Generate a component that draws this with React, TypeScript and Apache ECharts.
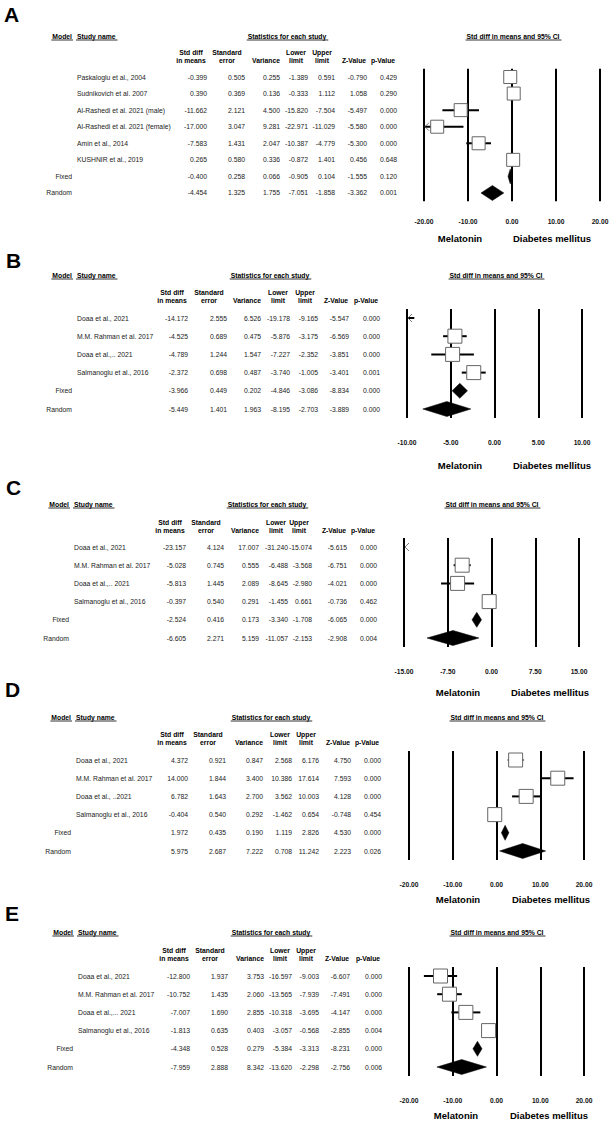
import React, { useEffect, useRef } from "react";
import * as echarts from "echarts";

const FONT = "'Liberation Sans', Arial, Helvetica, sans-serif";

// ---------- Panel A ----------
const rowsA = [
  "Paskaloglu et al., 2004",
  "Sudnikovich et al. 2007",
  "Al-Rashedi et al. 2021 (male)",
  "Al-Rashedi et al. 2021 (female)",
  "Amin et al., 2014",
  "KUSHNIR et al., 2019",
  "Fixed",
  "Random",
];
const smdA = [-0.399, 0.39, -11.662, -17.0, -7.583, 0.265, -0.4, -4.454];
const seA = [0.505, 0.369, 2.121, 3.047, 1.431, 0.58, 0.258, 1.325];
const varA = [0.255, 0.136, 4.5, 9.281, 2.047, 0.336, 0.066, 1.755];
const lowerA = [-1.389, -0.333, -15.82, -22.971, -10.387, -0.872, -0.905, -7.051];
const upperA = [0.591, 1.112, -7.504, -11.029, -4.779, 1.401, 0.104, -1.858];
const zA = [-0.79, 1.058, -5.497, -5.58, -5.3, 0.456, -1.555, -3.362];
const pA = [0.429, 0.29, 0.0, 0.0, 0.0, 0.648, 0.12, 0.001];
const ticksA = [-20, -10, 0, 10, 20];

// ---------- Panel B ----------
const rowsB = ["Doaa et al., 2021", "M.M. Rahman et al. 2017", "Doaa et al.,.. 2021", "Salmanoglu et al., 2016", "Fixed", "Random"];
const smdB = [-14.172, -4.525, -4.789, -2.372, -3.966, -5.449];
const seB = [2.555, 0.689, 1.244, 0.698, 0.449, 1.401];
const varB = [6.526, 0.475, 1.547, 0.487, 0.202, 1.963];
const lowerB = [-19.178, -5.876, -7.227, -3.74, -4.846, -8.195];
const upperB = [-9.165, -3.175, -2.352, -1.005, -3.086, -2.703];
const zB = [-5.547, -6.569, -3.851, -3.401, -8.834, -3.889];
const pB = [0.0, 0.0, 0.0, 0.001, 0.0, 0.0];
const ticksB = [-10, -5, 0, 5, 10];

// ---------- Panel C ----------
const rowsC = ["Doaa et al., 2021", "M.M. Rahman et al. 2017", "Doaa et al.,.. 2021", "Salmanoglu et al., 2016", "Fixed", "Random"];
const smdC = [-23.157, -5.028, -5.813, -0.397, -2.524, -6.605];
const seC = [4.124, 0.745, 1.445, 0.54, 0.416, 2.271];
const varC = [17.007, 0.555, 2.089, 0.291, 0.173, 5.159];
const lowerC = [-31.24, -6.488, -8.645, -1.455, -3.34, -11.057];
const upperC = [-15.074, -3.568, -2.98, 0.661, -1.708, -2.153];
const zC = [-5.615, -6.751, -4.021, -0.736, -6.065, -2.908];
const pC = [0.0, 0.0, 0.0, 0.462, 0.0, 0.004];
const ticksC = [-15, -7.5, 0, 7.5, 15];

// ---------- Panel D ----------
const rowsD = ["Doaa et al., 2021", "M.M. Rahman et al. 2017", "Doaa et al., ..2021", "Salmanoglu et al., 2016", "Fixed", "Random"];
const smdD = [4.372, 14.0, 6.782, -0.404, 1.972, 5.975];
const seD = [0.921, 1.844, 1.643, 0.54, 0.435, 2.687];
const varD = [0.847, 3.4, 2.7, 0.292, 0.19, 7.222];
const lowerD = [2.568, 10.386, 3.562, -1.462, 1.119, 0.708];
const upperD = [6.176, 17.614, 10.003, 0.654, 2.826, 11.242];
const zD = [4.75, 7.593, 4.128, -0.748, 4.53, 2.223];
const pD = [0.0, 0.0, 0.0, 0.454, 0.0, 0.026];
const ticksD = [-20, -10, 0, 10, 20];

// ---------- Panel E ----------
const rowsE = ["Doaa et al., 2021", "M.M. Rahman et al. 2017", "Doaa et al.,... 2021", "Salmanoglu et al., 2016", "Fixed", "Random"];
const smdE = [-12.8, -10.752, -7.007, -1.813, -4.348, -7.959];
const seE = [1.937, 1.435, 1.69, 0.635, 0.528, 2.888];
const varE = [3.753, 2.06, 2.855, 0.403, 0.279, 8.342];
const lowerE = [-16.597, -13.565, -10.318, -3.057, -5.384, -13.62];
const upperE = [-9.003, -7.939, -3.695, -0.568, -3.313, -2.298];
const zE = [-6.607, -7.491, -4.147, -2.855, -8.231, -2.756];
const pE = [0.0, 0.0, 0.0, 0.004, 0.0, 0.006];
const ticksE = [-20, -10, 0, 10, 20];

const panelLetters = ["A", "B", "C", "D", "E"];
const colHeaders = [
  ["Std diff", "in means"],
  ["Standard", "error"],
  ["", "Variance"],
  ["Lower", "limit"],
  ["Upper", "limit"],
  ["", "Z-Value"],
  ["", "p-Value"],
];
const headerModel = "Model";
const headerStudy = "Study name";
const headerStats = "Statistics for each study";
const forestTitle = "Std diff in means and 95% CI";
const leftSide = "Melatonin";
const rightSide = "Diabetes mellitus";

const panelData = [
  { rows: rowsA, cols: [smdA, seA, varA, lowerA, upperA, zA, pA], ticks: ticksA },
  { rows: rowsB, cols: [smdB, seB, varB, lowerB, upperB, zB, pB], ticks: ticksB },
  { rows: rowsC, cols: [smdC, seC, varC, lowerC, upperC, zC, pC], ticks: ticksC },
  { rows: rowsD, cols: [smdD, seD, varD, lowerD, upperD, zD, pD], ticks: ticksD },
  { rows: rowsE, cols: [smdE, seE, varE, lowerE, upperE, zE, pE], ticks: ticksE },
];

// layout (positions only)
const layouts = [
  { letterX: 4, letterY: 14, headerY: 36, colHdrY: 52, rowY0: 77, step: 16.57, gridLeft: 424, gridWidth: 176, colRights: [207, 245, 280, 308, 335, 367, 397], modelRight: 72, nameLeft: 77, statsCenter: 287, titleCenter: 513, labelMargin: 17, sideY: 238, melX: 460, diaX: 552, box: 13 },
  { letterX: 6, letterY: 260, headerY: 275, colHdrY: 292, rowY0: 318, step: 18.2, gridLeft: 407, gridWidth: 175, colRights: [188, 227, 261, 290, 318, 349, 380], modelRight: 72, nameLeft: 77, statsCenter: 270, titleCenter: 496, labelMargin: 20.5, sideY: 465, melX: 460, diaX: 552, box: 14 },
  { letterX: 6, letterY: 487, headerY: 504, colHdrY: 522, rowY0: 547, step: 18.2, gridLeft: 404, gridWidth: 175, colRights: [186, 224, 259, 288, 312, 347, 377], modelRight: 69, nameLeft: 74, statsCenter: 267, titleCenter: 492, labelMargin: 20.5, sideY: 692, melX: 458, diaX: 550, box: 14 },
  { letterX: 5, letterY: 689, headerY: 717, colHdrY: 734, rowY0: 760, step: 18.2, gridLeft: 409, gridWidth: 175, colRights: [188, 226, 263, 292, 319, 351, 381], modelRight: 71, nameLeft: 76, statsCenter: 271, titleCenter: 497, labelMargin: 20.5, sideY: 899, melX: 458, diaX: 551, box: 14 },
  { letterX: 5, letterY: 913, headerY: 932, colHdrY: 950, rowY0: 976, step: 18.2, gridLeft: 409, gridWidth: 175, colRights: [190, 228, 264, 292, 319, 350, 382], modelRight: 73, nameLeft: 78, statsCenter: 271, titleCenter: 497, labelMargin: 20.5, sideY: 1115, melX: 456, diaX: 549, box: 14 },
];
const hdrOffsets = [-16, -18, -14, -12, -13, -13, -14];

const FS = 6.8;
const TXT = "#222";

export default function App() {
  const ref = useRef<HTMLDivElement>(null);
  useEffect(() => {
    if (!ref.current) return;
    const chart = echarts.init(ref.current, null, { renderer: "svg" });
    const canvas = document.createElement("canvas");
    const ctx = canvas.getContext("2d")!;
    const measure = (t: string, font: string) => {
      ctx.font = font;
      return ctx.measureText(t).width;
    };
    const boldFont = `bold ${FS}px ${FONT}`;

    const grids: any[] = [];
    const xAxes: any[] = [];
    const yAxes: any[] = [];
    const series: any[] = [];
    const graphics: any[] = [];

    const underline = (x1: number, x2: number, y: number) => ({
      type: "line",
      shape: { x1, y1: y, x2, y2: y },
      style: { stroke: "#333", lineWidth: 1 },
      silent: true,
    });
    const txt = (text: string, x: number, y: number, align: string, opts: any = {}) => ({
      type: "text",
      x,
      y,
      silent: true,
      style: {
        text,
        fill: opts.fill || "#000",
        fontFamily: FONT,
        fontSize: opts.fontSize || FS,
        fontWeight: opts.fontWeight || "normal",
        align,
        verticalAlign: "middle",
      },
    });

    panelData.forEach((pd, i) => {
      const L = layouts[i];
      const n = pd.rows.length;
      const min = pd.ticks[0];
      const max = pd.ticks[pd.ticks.length - 1];
      const interval = pd.ticks[1] - pd.ticks[0];
      grids.push({
        left: L.gridLeft,
        width: L.gridWidth,
        top: L.rowY0 - L.step / 2,
        height: L.step * n,
        outerBoundsMode: "none",
        containLabel: false,
      });
      xAxes.push({
        gridIndex: i,
        type: "value",
        min,
        max,
        interval,
        axisLine: { show: false },
        axisTick: { show: false },
        splitLine: { show: true, showMinLine: true, showMaxLine: true, lineStyle: { color: "#000", width: 2 } },
        axisLabel: {
          formatter: (v: number) => v.toFixed(2),
          fontFamily: FONT,
          fontWeight: "bold",
          fontSize: 6.7,
          color: "#111",
          margin: L.labelMargin,
          showMinLabel: true,
          showMaxLabel: true,
        },
      });
      yAxes.push({
        gridIndex: i,
        type: "category",
        data: pd.rows,
        inverse: true,
        show: false,
      });
      const [smd, , , lower, upper] = pd.cols;
      const isSummary = (r: string) => r === "Fixed" || r === "Random";

      // forest marks
      series.push({
        type: "custom",
        xAxisIndex: i,
        yAxisIndex: i,
        silent: true,
        clip: false,
        data: pd.rows.map((r, j) => [smd[j], j, lower[j], upper[j], isSummary(r) ? 1 : 0]),
        renderItem: (params: any, api: any) => {
          const est = api.value(0);
          const row = api.value(1);
          const lo = api.value(2);
          const hi = api.value(3);
          const summ = api.value(4);
          const yc = api.coord([0, row])[1];
          const px = (v: number) => api.coord([v, row])[0];
          const children: any[] = [];
          if (summ) {
            const h = 7.5;
            children.push({
              type: "polygon",
              shape: { points: [[px(lo), yc], [px(est), yc - h], [px(hi), yc], [px(est), yc + h]] },
              style: { fill: "#000", stroke: "#000", lineWidth: 0.5 },
            });
          } else {
            const clo = Math.max(lo, min);
            const chi = Math.min(hi, max);
            if (chi > clo) {
              children.push({
                type: "line",
                shape: { x1: px(clo), y1: yc, x2: px(chi), y2: yc },
                style: { stroke: "#000", lineWidth: 2 },
              });
            }
            if (est >= min && est <= max) {
              const b = L.box;
              children.push({
                type: "rect",
                shape: { x: px(est) - b / 2, y: yc - b / 2, width: b, height: b },
                style: { fill: "#fff", stroke: "#666", lineWidth: 1 },
              });
            }
            if (lo < min) {
              const x0 = px(min) + 1;
              children.push({
                type: "polyline",
                shape: { points: [[x0 + 4, yc - 4], [x0, yc], [x0 + 4, yc + 4]] },
                style: { stroke: "#555", lineWidth: 0.8, fill: null },
              });
            }
            if (hi > max) {
              const x0 = px(max) - 1;
              children.push({
                type: "polyline",
                shape: { points: [[x0 - 4, yc - 4], [x0, yc], [x0 - 4, yc + 4]] },
                style: { stroke: "#555", lineWidth: 0.8, fill: null },
              });
            }
          }
          return { type: "group", children };
        },
      });

      // table rows
      series.push({
        type: "custom",
        xAxisIndex: i,
        yAxisIndex: i,
        silent: true,
        clip: false,
        data: pd.rows.map((r, j) => [0, j]),
        renderItem: (params: any, api: any) => {
          const j = params.dataIndex;
          const yc = api.coord([0, api.value(1)])[1];
          const name = pd.rows[j];
          const children: any[] = [];
          if (isSummary(name)) {
            children.push({ type: "text", x: L.modelRight, y: yc, style: { text: name, fill: TXT, fontFamily: FONT, fontSize: FS, align: "right", verticalAlign: "middle" } });
          } else {
            children.push({ type: "text", x: L.nameLeft, y: yc, style: { text: name, fill: TXT, fontFamily: FONT, fontSize: FS, align: "left", verticalAlign: "middle" } });
          }
          pd.cols.forEach((col, k) => {
            children.push({
              type: "text",
              x: L.colRights[k],
              y: yc,
              style: { text: col[j].toFixed(3), fill: TXT, fontFamily: FONT, fontSize: FS, align: "right", verticalAlign: "middle" },
            });
          });
          return { type: "group", children };
        },
      });

      // graphics: letter
      graphics.push(txt(panelLetters[i], L.letterX, L.letterY, "left", { fontSize: 21, fontWeight: "bold" }));
      // headers
      const hy = L.headerY;
      const wModel = measure(headerModel, boldFont);
      graphics.push(txt(headerModel, L.modelRight, hy, "right", { fontWeight: "bold" }));
      graphics.push(underline(L.modelRight - wModel - 1, L.modelRight + 1, hy + 4));
      const wStudy = measure(headerStudy, boldFont);
      graphics.push(txt(headerStudy, L.nameLeft, hy, "left", { fontWeight: "bold" }));
      graphics.push(underline(L.nameLeft - 1, L.nameLeft + wStudy + 2, hy + 4));
      const wStats = measure(headerStats, boldFont);
      graphics.push(txt(headerStats, L.statsCenter, hy, "center", { fontWeight: "bold" }));
      graphics.push(underline(L.statsCenter - wStats / 2 - 1, L.statsCenter + wStats / 2 + 2, hy + 4));
      const wTitle = measure(forestTitle, boldFont);
      graphics.push(txt(forestTitle, L.titleCenter, hy, "center", { fontWeight: "bold" }));
      graphics.push(underline(L.titleCenter - wTitle / 2 - 1, L.titleCenter + wTitle / 2 + 2, hy + 4));
      colHeaders.forEach((h, k) => {
        const cx = L.colRights[k] + hdrOffsets[k];
        if (h[0]) graphics.push(txt(h[0], cx, L.colHdrY, "center", { fontWeight: "bold" }));
        graphics.push(txt(h[1], cx, L.colHdrY + 8, "center", { fontWeight: "bold" }));
      });
      // side labels
      graphics.push(txt(leftSide, L.melX, L.sideY, "center", { fontSize: 9.5, fontWeight: "bold" }));
      graphics.push(txt(rightSide, L.diaX, L.sideY, "center", { fontSize: 9.5, fontWeight: "bold" }));
    });

    chart.setOption({
      animation: false,
      backgroundColor: "#fff",
      grid: grids,
      xAxis: xAxes,
      yAxis: yAxes,
      series,
      graphic: { elements: graphics },
    });
    return () => chart.dispose();
  }, []);
  return <div ref={ref} style={{ position: "absolute", left: 0, top: 0, width: 616, height: 1122 }} />;
}
